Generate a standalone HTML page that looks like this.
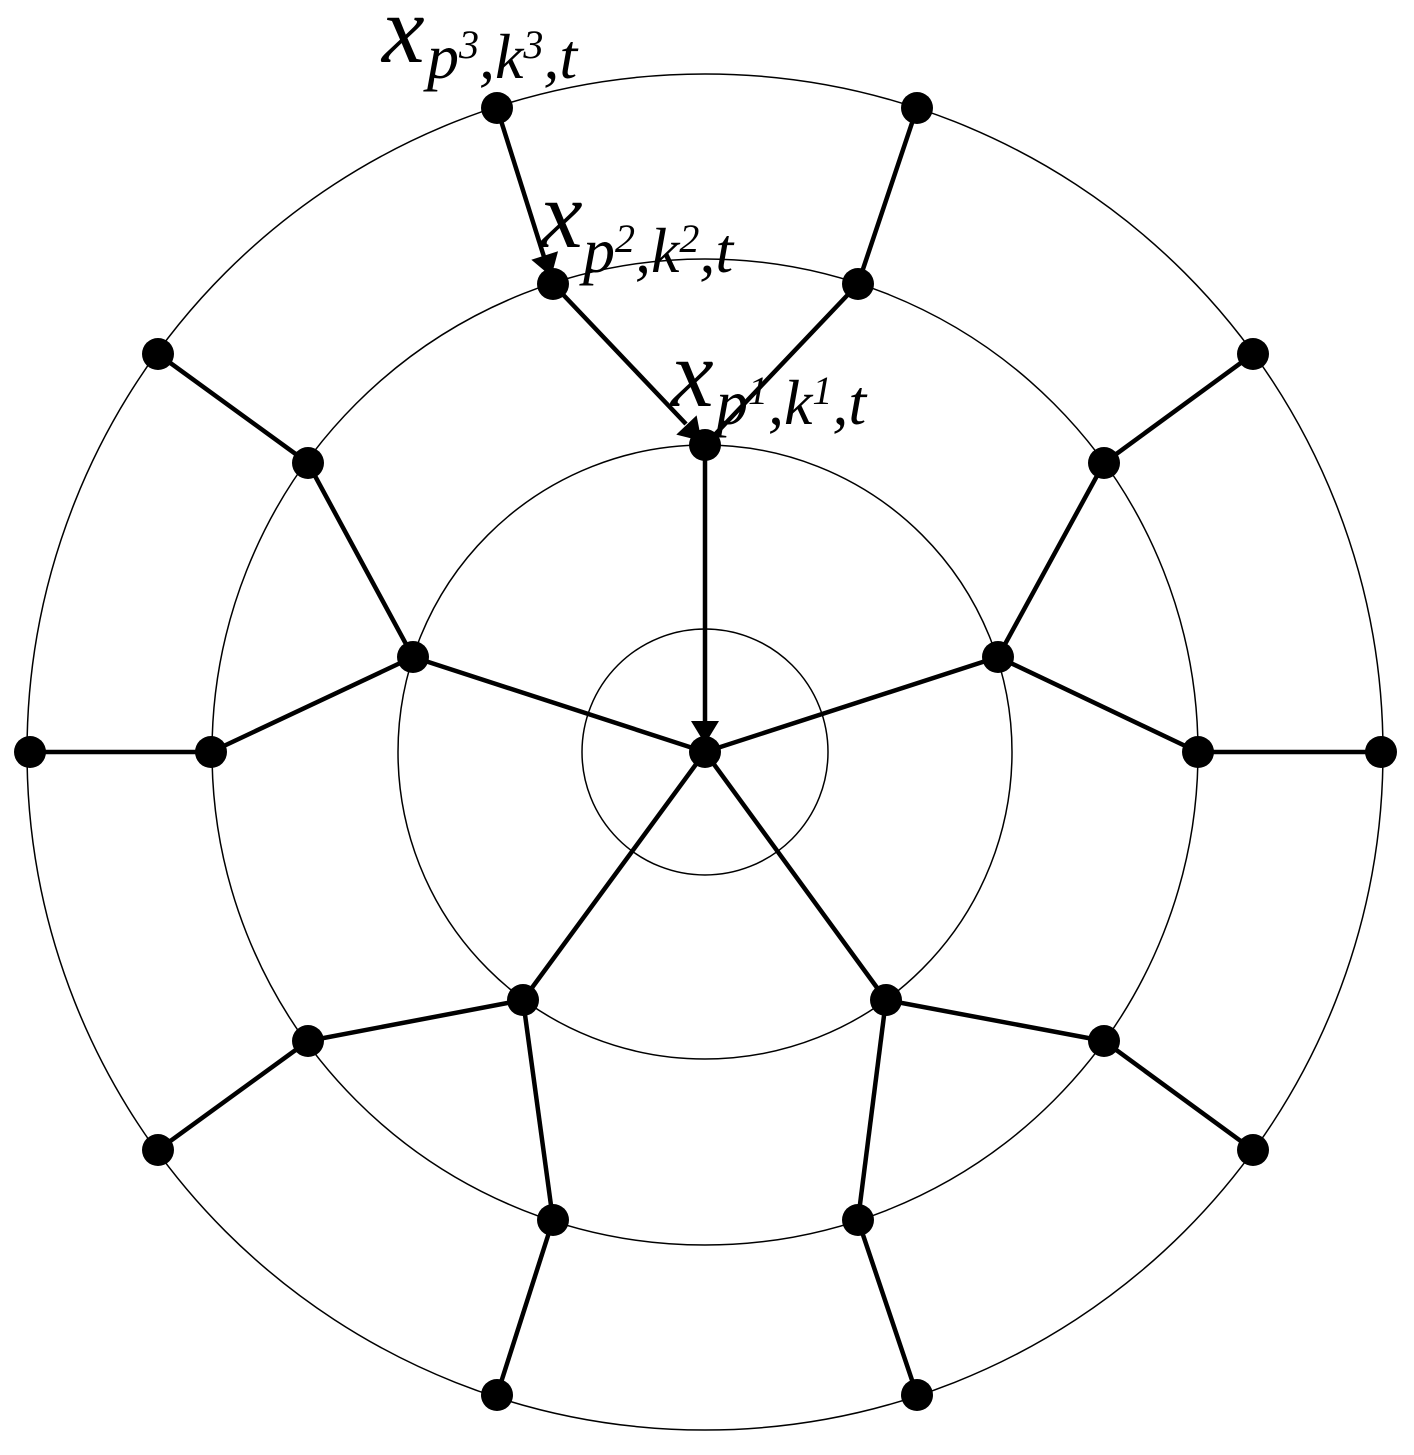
<!DOCTYPE html>
<html><head><style>html,body{margin:0;padding:0;background:#fff}</style></head>
<body>
<svg width="1414" height="1450" viewBox="0 0 1414 1450" xmlns="http://www.w3.org/2000/svg">
<g fill="none" stroke="#000" stroke-width="1.5">
<circle cx="705" cy="752" r="123"/>
<circle cx="705" cy="752" r="307"/>
<circle cx="705" cy="752" r="493"/>
<circle cx="705" cy="752" r="678"/>
</g>
<g stroke="#000" stroke-width="4.5" fill="none">
<line x1="705" y1="752" x2="413" y2="657"/>
<line x1="705" y1="752" x2="998" y2="657"/>
<line x1="705" y1="752" x2="523" y2="1000"/>
<line x1="705" y1="752" x2="886" y2="1000"/>
<line x1="705" y1="445" x2="705" y2="725"/>
<line x1="705" y1="445" x2="858" y2="284"/>
<line x1="553" y1="284" x2="686" y2="424"/>
<line x1="497" y1="108" x2="545" y2="260"/>
<line x1="413" y1="657" x2="308" y2="463"/>
<line x1="413" y1="657" x2="211" y2="752"/>
<line x1="998" y1="657" x2="1104" y2="463"/>
<line x1="998" y1="657" x2="1198" y2="752"/>
<line x1="523" y1="1000" x2="308" y2="1041"/>
<line x1="523" y1="1000" x2="553" y2="1220"/>
<line x1="886" y1="1000" x2="1104" y2="1041"/>
<line x1="886" y1="1000" x2="858" y2="1220"/>
<line x1="858" y1="284" x2="917" y2="108"/>
<line x1="308" y1="463" x2="158" y2="354"/>
<line x1="1104" y1="463" x2="1253" y2="354"/>
<line x1="211" y1="752" x2="30" y2="752"/>
<line x1="1198" y1="752" x2="1381" y2="752"/>
<line x1="308" y1="1041" x2="158" y2="1150"/>
<line x1="1104" y1="1041" x2="1253" y2="1150"/>
<line x1="553" y1="1220" x2="497" y2="1395"/>
<line x1="858" y1="1220" x2="917" y2="1395"/>
</g>
<g fill="#000">
<polygon points="691,721 719,721 705,744"/>
<polygon points="-14,-11 14,-11 0,11" transform="translate(694,433) rotate(-43.5)"/>
<polygon points="-14,-11 14,-11 0,11" transform="translate(548,266) rotate(-17.5)"/>
<circle cx="705" cy="752" r="16"/>
<circle cx="705" cy="445" r="16"/><circle cx="413" cy="657" r="16"/><circle cx="998" cy="657" r="16"/><circle cx="523" cy="1000" r="16"/><circle cx="886" cy="1000" r="16"/>
<circle cx="553" cy="284" r="16"/><circle cx="858" cy="284" r="16"/><circle cx="308" cy="463" r="16"/><circle cx="1104" cy="463" r="16"/><circle cx="211" cy="752" r="16"/><circle cx="1198" cy="752" r="16"/><circle cx="308" cy="1041" r="16"/><circle cx="1104" cy="1041" r="16"/><circle cx="553" cy="1220" r="16"/><circle cx="858" cy="1220" r="16"/>
<circle cx="497" cy="108" r="16"/><circle cx="917" cy="108" r="16"/><circle cx="158" cy="354" r="16"/><circle cx="1253" cy="354" r="16"/><circle cx="30" cy="752" r="16"/><circle cx="1381" cy="752" r="16"/><circle cx="158" cy="1150" r="16"/><circle cx="1253" cy="1150" r="16"/><circle cx="497" cy="1395" r="16"/><circle cx="917" cy="1395" r="16"/>
</g>
<g font-family="Liberation Serif, serif" font-style="italic" fill="#000">
<text x="382" y="62" font-size="96">x</text>
<text x="427" y="78" font-size="64">p<tspan font-size="40" dy="-20">3</tspan><tspan dy="20">,k</tspan><tspan font-size="40" dy="-20">3</tspan><tspan dy="20">,t</tspan></text>
<text x="540" y="247" font-size="96">x</text>
<text x="583" y="272" font-size="64">p<tspan font-size="40" dy="-20">2</tspan><tspan dy="20">,k</tspan><tspan font-size="40" dy="-20">2</tspan><tspan dy="20">,t</tspan></text>
<text x="671" y="406" font-size="96">x</text>
<text x="716" y="424" font-size="64">p<tspan font-size="40" dy="-20">1</tspan><tspan dy="20">,k</tspan><tspan font-size="40" dy="-20">1</tspan><tspan dy="20">,t</tspan></text>
</g>
</svg>
</body></html>
